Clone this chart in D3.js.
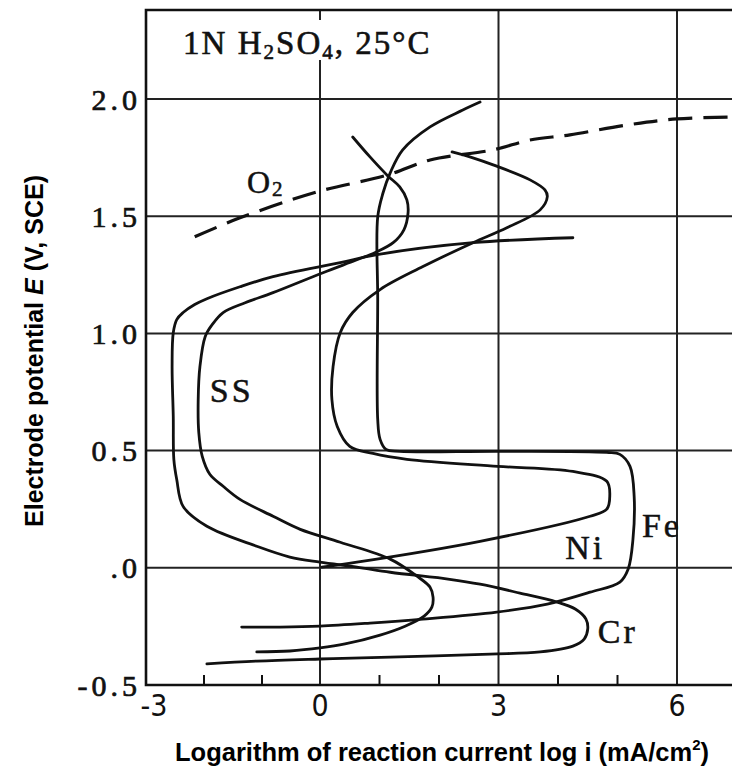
<!DOCTYPE html>
<html>
<head>
<meta charset="utf-8">
<script src="https://cdn.jsdelivr.net/npm/d3@7"></script>
<style>
html, body { margin: 0; padding: 0; background: #fff; }
svg { display: block; }
</style>
</head>
<body>
<svg id="chart" width="732" height="776"></svg>
<script>
// ticks
let xMajor = [-3, 0, 3, 6]
let xMinor = [-2, -1, 1, 2, 4, 5]
let yMajor = [2.0, 1.5, 1.0, 0.5, 0, -0.5]
let yLabels = ["2.0", "1.5", "1.0", "0.5", ".0", "-0.5"]
let yGrid = [2.0, 1.5, 1.0, 0.5, 0]

// Fe  (log i, E)
let feLogI = [-1.35, -0.69, 0, 0.84, 1.73, 2.97, 3.82, 4.54, 5.04, 5.18, 5.26, 5.28, 5.21, 5.04, 4.82, 3.03, 1.34, 1.11, 1.01, 0.97, 0.97, 0.97, 1.06, 1.18, 1.39, 1.85, 2.40, 2.69]
let feE = [-0.253, -0.253, -0.249, -0.236, -0.219, -0.189, -0.155, -0.104, -0.061, -0.005, 0.122, 0.305, 0.433, 0.484, 0.492, 0.497, 0.497, 0.505, 0.548, 0.633, 1.144, 1.497, 1.600, 1.685, 1.783, 1.881, 1.953, 1.987]

// Ni
let niLogI = [0.03, 0.62, 2.69, 4.54, 4.82, 4.87, 4.82, 4.25, 2.99, 1.46, 0.89, 0.50, 0.29, 0.20, 0.22, 0.34, 0.55, 1.01, 1.73, 2.57, 3.14, 3.70, 3.82, 3.78, 3.53, 2.91, 2.57, 2.22]
let niE = [0.003, 0.024, 0.113, 0.220, 0.250, 0.305, 0.369, 0.411, 0.433, 0.463, 0.488, 0.518, 0.603, 0.718, 0.859, 1.003, 1.089, 1.187, 1.285, 1.387, 1.451, 1.527, 1.583, 1.612, 1.655, 1.719, 1.749, 1.774]

// SS
let ssLogI = [-1.09, -0.52, 0, 0.42, 1.01, 1.43, 1.75, 1.88, 1.90, 1.85, 1.63, 1.18, 0.34, -0.34, -0.81, -1.38, -1.67, -1.90, -2.03, -2.09, -2.10, -2.07, -1.98, -1.86, -1.67, -1.29, -0.81, 0.05, 0.62, 0.92, 1.23, 1.41, 1.48, 1.46, 1.34, 1.14, 0.84, 0.55]
let ssE = [-0.359, -0.355, -0.342, -0.325, -0.287, -0.249, -0.206, -0.168, -0.125, -0.083, -0.036, 0.037, 0.109, 0.164, 0.220, 0.292, 0.348, 0.399, 0.475, 0.578, 0.718, 0.859, 0.986, 1.037, 1.089, 1.131, 1.174, 1.259, 1.314, 1.344, 1.387, 1.442, 1.514, 1.570, 1.625, 1.672, 1.753, 1.838]

// Cr
let crLogI = [-1.95, -1.09, 0, 1.18, 2.86, 3.70, 4.25, 4.44, 4.50, 4.47, 4.29, 3.98, 3.36, 2.69, 2.18, 1.18, 0.62, 0, -0.52, -1.09, -1.95, -2.36, -2.47, -2.52, -2.53, -2.55, -2.53, -2.47, -2.36, -2.16, -1.95, -1.38, -0.81, 0.34, 0.96, 2.57, 4.25]
let crE = [-0.410, -0.398, -0.389, -0.381, -0.368, -0.359, -0.334, -0.304, -0.261, -0.219, -0.176, -0.146, -0.108, -0.070, -0.049, -0.019, 0.003, 0.024, 0.046, 0.092, 0.177, 0.262, 0.377, 0.463, 0.646, 0.859, 1.003, 1.059, 1.089, 1.123, 1.148, 1.199, 1.242, 1.302, 1.336, 1.387, 1.408]

// O2 evolution (dashed)
let o2LogI = [-2.16, -1.38, -0.05, 1.14, 1.85, 2.91, 3.53, 4.20, 5.16, 6.00, 6.92]
let o2E = [1.412, 1.493, 1.604, 1.676, 1.740, 1.783, 1.825, 1.847, 1.889, 1.915, 1.923]

// curve labels
let labelNames = ["SS", "Ni", "Fe", "Cr"]
let labelLogI = [-1.90, 4.12, 5.41, 4.67]
let labelE = [0.707, 0.039, 0.131, -0.321]

let svg = d3.select("#chart")

// scales (the scanned figure is slightly stretched on the left part)
let x = d3.scaleLinear().domain([-3, 0, 6]).range([146, 320, 677])
let y = d3.scaleLinear().domain([-0.5, 2.0]).range([685, 99])

let plotLeft = x(-3), plotRight = 732, plotTop = 10, plotBottom = y(-0.5)
let ink = "#111"

// grid
svg.selectAll(".hgrid")
    .data(yGrid)
    .join("line")
    .attr("x1", plotLeft).attr("x2", plotRight)
    .attr("y1", d => y(d)).attr("y2", d => y(d))
    .attr("stroke", "#222").attr("stroke-width", 2)

svg.selectAll(".vgrid")
    .data([0, 3, 6])
    .join("line")
    .attr("x1", d => x(d)).attr("x2", d => x(d))
    .attr("y1", plotTop).attr("y2", plotBottom)
    .attr("stroke", "#222").attr("stroke-width", 2)

// frame
svg.append("path")
    .attr("d", `M${plotRight},${plotTop}H${plotLeft}V${plotBottom}H${plotRight}`)
    .attr("fill", "none")
    .attr("stroke", ink)
    .attr("stroke-width", 2.6)

// minor ticks
svg.selectAll(".minor")
    .data(xMinor)
    .join("line")
    .attr("x1", d => x(d)).attr("x2", d => x(d))
    .attr("y1", plotBottom).attr("y2", plotBottom - 10)
    .attr("stroke", ink).attr("stroke-width", 2)

// title, with white box behind it
let titleX = x(-2.36), titleY = y(2.192)
svg.append("rect")
    .attr("x", titleX - 4).attr("y", 20)
    .attr("width", 256).attr("height", 40)
    .attr("fill", "#fff")

let title = svg.append("text")
    .attr("x", titleX).attr("y", titleY)
    .attr("font-family", "Liberation Serif, serif")
    .attr("font-size", 33)
    .attr("letter-spacing", 2)
    .attr("fill", ink)
    .attr("stroke", ink).attr("stroke-width", 0.6)
title.append("tspan").text("1N H")
title.append("tspan").text("2").attr("font-size", 21).attr("dy", 5)
title.append("tspan").text("SO").attr("dy", -5)
title.append("tspan").text("4").attr("font-size", 21).attr("dy", 5)
title.append("tspan").text(", 25°C").attr("dy", -5)

// curves
let line = d3.line()
    .x(d => x(d[0]))
    .y(d => y(d[1]))
    .curve(d3.curveCatmullRom.alpha(0.5))

let series = [
    [feLogI, feE],
    [niLogI, niE],
    [ssLogI, ssE],
    [crLogI, crE]
]

series.forEach(s => {
    svg.append("path")
        .datum(d3.zip(s[0], s[1]))
        .attr("d", line)
        .attr("fill", "none")
        .attr("stroke", ink)
        .attr("stroke-width", 2.8)
        .attr("stroke-linejoin", "round")
        .attr("stroke-linecap", "round")
})

svg.append("path")
    .datum(d3.zip(o2LogI, o2E))
    .attr("d", line)
    .attr("fill", "none")
    .attr("stroke", ink)
    .attr("stroke-width", 3.2)
    .attr("stroke-dasharray", "24,11")

// labels on curves
svg.selectAll(".clabel")
    .data(d3.zip(labelNames, labelLogI, labelE))
    .join("text")
    .attr("x", d => x(d[1]))
    .attr("y", d => y(d[2]))
    .text(d => d[0])
    .attr("font-family", "Liberation Serif, serif")
    .attr("font-size", 34)
    .attr("letter-spacing", 3)
    .attr("fill", ink)
    .attr("stroke", ink).attr("stroke-width", 0.5)

let o2Label = svg.append("text")
    .attr("x", x(-1.26)).attr("y", y(1.599))
    .attr("font-family", "Liberation Serif, serif")
    .attr("font-size", 32)
    .attr("fill", ink)
    .attr("stroke", ink).attr("stroke-width", 0.5)
o2Label.append("tspan").text("O")
o2Label.append("tspan").text("2").attr("font-size", 21).attr("dy", 3).attr("dx", 2)

// y tick labels
svg.selectAll(".ylab")
    .data(d3.zip(yMajor, yLabels))
    .join("text")
    .attr("x", 141)
    .attr("y", d => y(d[0]))
    .attr("dy", "0.35em")
    .attr("text-anchor", "end")
    .attr("font-family", "Liberation Serif, serif")
    .attr("font-size", 30)
    .attr("letter-spacing", 4)
    .attr("fill", ink)
    .attr("stroke", ink).attr("stroke-width", 0.7)
    .text(d => d[1])

// x tick labels
svg.selectAll(".xlab")
    .data(xMajor)
    .join("text")
    .attr("x", d => x(d) + (d === -3 ? 8 : 0))
    .attr("y", plotBottom + 31)
    .attr("text-anchor", "middle")
    .attr("font-family", "Liberation Sans Narrow, DejaVu Sans Condensed, sans-serif")
    .attr("font-size", 30)
    .attr("fill", ink)
    .text(d => d)

// axis titles
let xTitle = svg.append("text")
    .attr("x", 442).attr("y", 761)
    .attr("text-anchor", "middle")
    .attr("font-family", "Liberation Sans, Arial, sans-serif")
    .attr("font-weight", "bold")
    .attr("font-size", 25.5)
    .attr("fill", "#000")
xTitle.append("tspan").text("Logarithm of reaction current log i (mA/cm")
xTitle.append("tspan").text("2").attr("font-size", 15).attr("dy", -11)
xTitle.append("tspan").text(")").attr("dy", 11)

let yTitle = svg.append("text")
    .attr("transform", "translate(43,351) rotate(-90)")
    .attr("text-anchor", "middle")
    .attr("font-family", "Liberation Sans, Arial, sans-serif")
    .attr("font-weight", "bold")
    .attr("font-size", 25)
    .attr("fill", "#000")
yTitle.append("tspan").text("Electrode potential ")
yTitle.append("tspan").text("E").attr("font-style", "italic")
yTitle.append("tspan").text(" (V, SCE)")
</script>
</body>
</html>
